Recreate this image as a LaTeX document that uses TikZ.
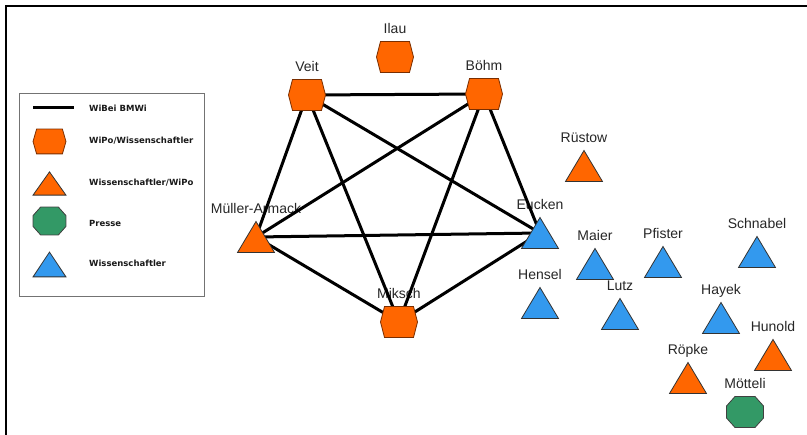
\documentclass[tikz,border=0pt]{standalone}
\usepackage{fontspec}
\newfontfamily\namefont{Liberation Sans}
\newfontfamily\keyfont{DejaVu Sans}

\definecolor{wipo}{HTML}{FF6600}
\definecolor{wiss}{HTML}{3399EE}
\definecolor{presse}{HTML}{339966}
\definecolor{rim}{HTML}{7A2E00}

\tikzset{
  who/.style={inner sep=0pt, minimum size=0pt, label={[name label]90:#1}},
  name label/.style={anchor=base, label distance=23pt, inner sep=0pt,
    font=\namefont\fontsize{14}{16}\selectfont, text=black!85},
  key/.style={anchor=west, inner sep=0pt, font=\keyfont\bfseries\fontsize{8.5}{10}\selectfont, text=black!90},
  tie/.style={line width=3pt},
  % shapes drawn on top of the ties
  hexa/.pic={\filldraw[fill=wipo, draw=rim, line width=0.8pt]
    (-18.5,0) -- (-14.5,-15.5) -- (14.5,-15.5) -- (18.5,0) -- (14.5,15.5) -- (-14.5,15.5) -- cycle;},
  tri/.pic={\filldraw[draw=black!80, line width=0.8pt, pic actions]
    (-18.5,15.5) -- (0,-15.5) -- (18.5,15.5) -- cycle;},
  octa/.pic={\filldraw[fill=presse, draw=black!75, line width=0.8pt]
    (-18.5,-6) -- (-10,-15.5) -- (10,-15.5) -- (18.5,-6) -- (18.5,6) -- (10,15.5) -- (-10,15.5) -- (-18.5,6) -- cycle;}
}

\begin{document}
\begin{tikzpicture}[x=1pt, y=-1pt]
  \useasboundingbox (0,0) rectangle (807,435);
  \draw[line width=2pt] (6,435) -- (6,6) -- (807,6);

  % people
  \node[who=Veit] (veit) at (307,95) {};
  \node[who=Ilau] (ilau) at (395,57) {};
  \node[who=Böhm] (boehm) at (484,94) {};
  \node[who=Rüstow] (ruestow) at (584,166) {};
  \node[who=Müller-Armack] (mueller) at (256,237) {};
  \node[who=Eucken] (eucken) at (540,233) {};
  \node[who=Miksch] (miksch) at (399,322) {};
  \node[who=Maier] (maier) at (595,264) {};
  \node[who=Pfister] (pfister) at (663,262) {};
  \node[who=Schnabel] (schnabel) at (757,252) {};
  \node[who=Hensel] (hensel) at (540,303) {};
  \node[who=Lutz] (lutz) at (620,314) {};
  \node[who=Hayek] (hayek) at (721,318) {};
  \node[who=Hunold] (hunold) at (773,355) {};
  \node[who=Röpke] (roepke) at (688,378) {};
  \node[who=Mötteli] (moetteli) at (745,412) {};

  % WiBei BMWi
  \foreach \a/\b in {veit/boehm, veit/mueller, veit/miksch, veit/eucken,
      boehm/mueller, boehm/miksch, boehm/eucken,
      mueller/eucken, mueller/miksch, miksch/eucken}
    \draw[tie] (\a) -- (\b);

  \foreach \n in {veit, ilau, boehm, miksch}
    \pic at (\n) {hexa};
  \foreach \n in {mueller, ruestow, hunold, roepke}
    \pic[fill=wipo] at (\n) {tri};
  \foreach \n in {eucken, maier, pfister, schnabel, hensel, lutz, hayek}
    \pic[fill=wiss] at (\n) {tri};
  \pic at (moetteli) {octa};

  % legend
  \draw[black!55, line width=0.8pt] (19,93) rectangle (204,296);
  \coordinate (l1) at (33,108);
  \coordinate (l2) at (74,108);
  \draw[tie] (l1) -- (l2);
  \pic[xscale=0.89, yscale=0.8] at (49.5,141.5) {hexa};
  \pic[fill=wipo, xscale=0.89, yscale=0.75] at (49.5,183.5) {tri};
  \pic[xscale=0.89, yscale=0.9] at (49.5,221) {octa};
  \pic[fill=wiss, xscale=0.89, yscale=0.8] at (49.5,264.5) {tri};
  \node[key] (k1) at (89,108) {WiBei BMWi};
  \node[key] (k2) at (89,141) {WiPo/Wissenschaftler};
  \node[key] (k3) at (89,183) {Wissenschaftler/WiPo};
  \node[key] (k4) at (89,223) {Presse};
  \node[key] (k5) at (89,263) {Wissenschaftler};
\end{tikzpicture}
\end{document}
